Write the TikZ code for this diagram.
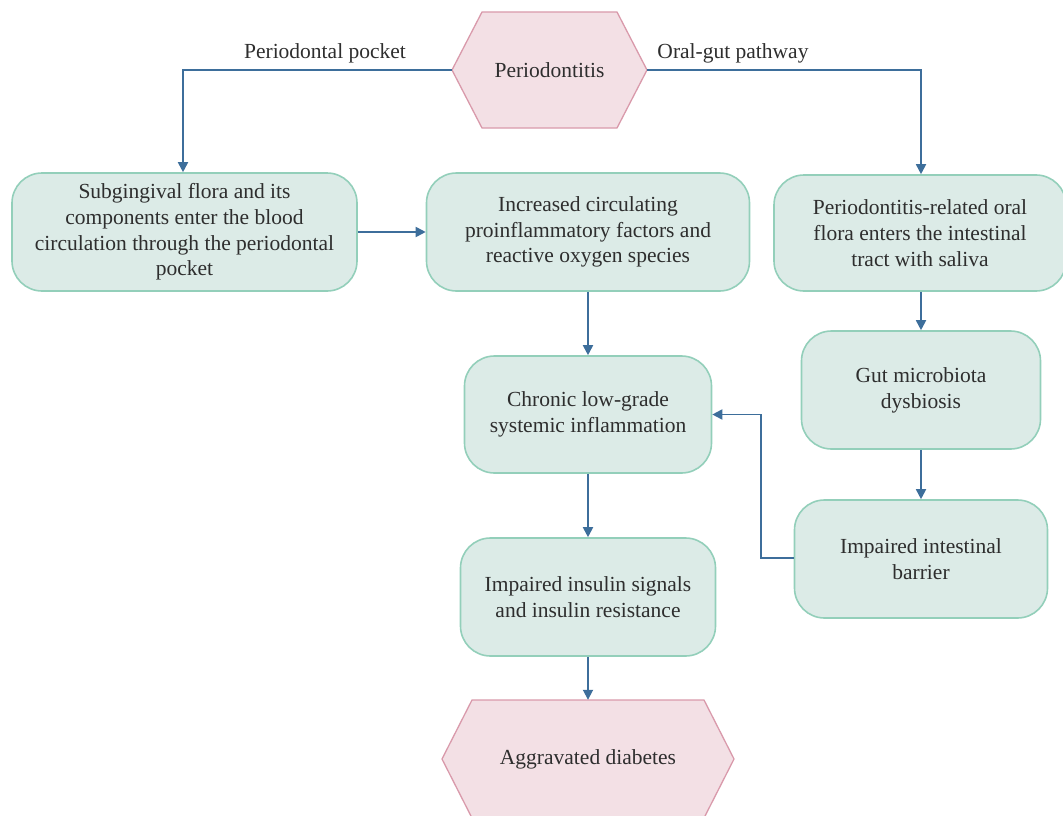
\documentclass[tikz,border=0pt]{standalone}
\usepackage{fontspec}
\setmainfont{Liberation Serif}
\usetikzlibrary{arrows.meta}
\definecolor{boxfill}{HTML}{DCEBE7}
\definecolor{boxline}{HTML}{93CFBA}
\definecolor{hexfill}{HTML}{F3E0E5}
\definecolor{hexline}{HTML}{D99AAB}
\definecolor{arr}{HTML}{3D6E9B}
\definecolor{txt}{HTML}{2E2E2E}
\tikzset{
  x=1pt,y=1pt,
  every node/.style={font=\fontsize{21.5}{25.8}\selectfont, text=txt},
  tbox/.style={draw=boxline, fill=boxfill, line width=1.6pt, rounded corners=30pt, align=center, inner sep=0pt},
  hexshape/.style={draw=hexline, fill=hexfill, line width=1.3pt},
  conn/.style={draw=arr, line width=1.8pt, -{Triangle[length=10pt,width=10pt]}},
  lbl/.style={inner sep=2pt}
}
\begin{document}
\begin{tikzpicture}
\useasboundingbox (0,0) rectangle (1063,-816);
% hexagons
\path[hexshape] (452,-70) -- (482,-12) -- (617,-12) -- (647,-70) -- (617,-128) -- (482,-128) -- cycle;
\node[minimum width=195pt, minimum height=116pt, inner sep=0pt] (perio) at (549.5,-70) {Periodontitis};
\path[hexshape] (442,-759) -- (472,-700) -- (704,-700) -- (734,-759) -- (704,-818) -- (472,-818) -- cycle;
\node[minimum width=292pt, minimum height=118pt, inner sep=0pt] (diab) at (588,-759) {Aggravated diabetes};
% boxes
\node[tbox, minimum width=345pt, minimum height=118pt] (sub) at (184.5,-232) {Subgingival flora and its\\components enter the blood\\circulation through the periodontal\\pocket};
\node[tbox, minimum width=323pt, minimum height=118pt] (inc) at (588,-232) {Increased circulating\\proinflammatory factors and\\reactive oxygen species};
\node[tbox, minimum width=292pt, minimum height=116pt] (oral) at (920,-233) {Periodontitis-related oral\\flora enters the intestinal\\tract with saliva};
\node[tbox, minimum width=247pt, minimum height=117pt] (chron) at (588,-414.5) {Chronic low-grade\\systemic inflammation};
\node[tbox, minimum width=239pt, minimum height=118pt] (gut) at (921,-390) {Gut microbiota\\dysbiosis};
\node[tbox, minimum width=253pt, minimum height=118pt] (barr) at (921,-559) {Impaired intestinal\\barrier};
\node[tbox, minimum width=255pt, minimum height=118pt] (ins) at (588,-597) {Impaired insulin signals\\and insulin resistance};
% connectors
\coordinate (c1) at (183,-70);
\coordinate (c2) at (921,-70);
\coordinate (c3) at (761,-558);
\draw[conn] (perio.west) -- (c1) -- (c1 |- sub.north);
\draw[conn] (perio.east) -- (c2) -- (c2 |- oral.north);
\node[lbl] (l1) at (325,-53) {Periodontal pocket};
\node[lbl] (l2) at (733,-53) {Oral-gut pathway};
\draw[conn] (sub.east) -- (inc.west |- sub.east);
\draw[conn] (inc.south) -- (chron.north);
\draw[conn] (oral.south -| gut.north) -- (gut.north);
\draw[conn] (gut.south) -- (barr.north);
\draw[conn] (barr.west |- c3) -- (c3) -- (c3 |- chron.east) -- (chron.east);
\draw[conn] (chron.south) -- (ins.north);
\draw[conn] (ins.south) -- (diab.north);
\end{tikzpicture}
\end{document}
